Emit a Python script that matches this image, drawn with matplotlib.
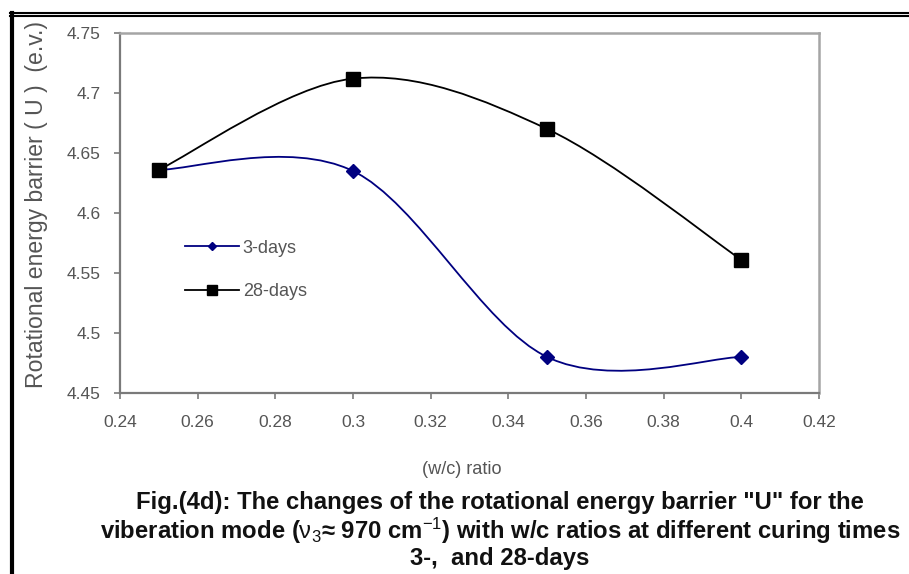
import matplotlib
matplotlib.use("Agg")
import matplotlib.pyplot as plt
from matplotlib.path import Path
from matplotlib.patches import PathPatch
from matplotlib.lines import Line2D
from matplotlib import font_manager
import numpy as np

# ---------------- data ----------------
wc_ratio = [0.25, 0.30, 0.35, 0.40]
days3 = [4.636, 4.635, 4.480, 4.480]
days28 = [4.636, 4.712, 4.670, 4.561]
series_names = ["3-days", "28-days"]
xticks = [0.24, 0.26, 0.28, 0.30, 0.32, 0.34, 0.36, 0.38, 0.40, 0.42]
xtick_labels = ["0.24", "0.26", "0.28", "0.3", "0.32", "0.34", "0.36", "0.38", "0.4", "0.42"]
yticks = [4.45, 4.50, 4.55, 4.60, 4.65, 4.70, 4.75]
ytick_labels = ["4.45", "4.5", "4.55", "4.6", "4.65", "4.7", "4.75"]
xlabel = "(w/c) ratio"
ylabel = "Rotational energy barrier ( U )  (e.v.)"
caption = [
    'Fig.(4d): The changes of the rotational energy barrier "U" for the',
    r'viberation mode ($\mathrm{\nu}_3$≈ 970 cm$^{-1}$) with w/c ratios at different curing times',
    '3-,  and 28-days',
]

# ---------------- fonts ----------------
avail = {f.name for f in font_manager.fontManager.ttflist}
base = "Liberation Sans" if "Liberation Sans" in avail else "DejaVu Sans"
narrow = "Liberation Sans Narrow" if "Liberation Sans Narrow" in avail else base
plt.rcParams["font.family"] = [base, "DejaVu Sans"]
plt.rcParams["mathtext.fontset"] = "custom"
plt.rcParams["mathtext.rm"] = base
plt.rcParams["mathtext.it"] = base + ":italic"
plt.rcParams["mathtext.bf"] = base + ":bold"

W, H = 909, 574
fig = plt.figure(figsize=(W / 100, H / 100), dpi=100)
fig.patch.set_facecolor("white")

# axes in pixel layout
L, R, T, B = 120, 819, 33, 393
ax = fig.add_axes([L / W, (H - B) / H, (R - L) / W, (B - T) / H])
ax.set_xlim(0.24, 0.42)
ax.set_ylim(4.45, 4.75)


def smooth_path(xs, ys):
    pts = [np.array([x, y], dtype=float) for x, y in zip(xs, ys)]
    n = len(pts)
    verts = [pts[0]]
    codes = [Path.MOVETO]
    for i in range(n - 1):
        p0 = pts[i - 1] if i > 0 else pts[i]
        p1 = pts[i]
        p2 = pts[i + 1]
        p3 = pts[i + 2] if i + 2 < n else pts[i + 1]
        c1 = p1 + (p2 - p0) / 6.0
        c2 = p2 - (p3 - p1) / 6.0
        verts += [c1, c2, p2]
        codes += [Path.CURVE4] * 3
    return Path(verts, codes)


c3 = "#000080"
c28 = "#000000"
ax.add_patch(PathPatch(smooth_path(wc_ratio, days3), fill=False, edgecolor=c3, lw=1.3, zorder=2))
ax.add_patch(PathPatch(smooth_path(wc_ratio, days28), fill=False, edgecolor=c28, lw=1.3, zorder=2))
ax.plot(wc_ratio, days3, linestyle="none", marker="D", ms=7, color=c3, zorder=3)
ax.plot(wc_ratio, days28, linestyle="none", marker="s", ms=10.5, color=c28, zorder=4)

# spines / ticks
for s in ["left", "bottom"]:
    ax.spines[s].set_color("#7a7a7a")
    ax.spines[s].set_linewidth(1.6)
for s in ["top", "right"]:
    ax.spines[s].set_color("#a5a5a5")
    ax.spines[s].set_linewidth(1.8)
ax.set_xticks(xticks)
ax.set_xticklabels(xtick_labels)
ax.set_yticks(yticks)
ax.set_yticklabels(ytick_labels)
ax.tick_params(axis="both", direction="out", length=4, width=1.2, color="#7a7a7a",
               labelcolor="#555555")
ax.tick_params(axis="x", pad=12)
ax.tick_params(axis="y", pad=10)
for lab in ax.get_xticklabels() + ax.get_yticklabels():
    lab.set_family([narrow, base, "DejaVu Sans"])
    lab.set_fontsize(14.5 if narrow != base else 12.5)

# legend
h3 = Line2D([], [], color=c3, lw=1.3, marker="D", ms=4.5)
h28 = Line2D([], [], color=c28, lw=1.3, marker="s", ms=6.5)
leg = ax.legend([h3, h28], series_names, loc="center left", bbox_to_anchor=(0.093, 0.342),
                frameon=False, borderaxespad=0, borderpad=0, handlelength=3.0,
                handletextpad=0.2, labelspacing=1.45, fontsize=13)
for t in leg.get_texts():
    t.set_color("#555555")
    t.set_family([narrow, base, "DejaVu Sans"])
    t.set_fontsize(14 if narrow != base else 13)

# axis labels as figure texts
ylab = fig.text(37 / W, 1 - 204 / H, ylabel, rotation=90, ha="center", va="center",
                color="#555555", fontsize=12.5)
xlab = fig.text(462 / W, 1 - 469 / H, xlabel, ha="center", va="center",
                color="#555555", fontsize=12, family=[narrow, base, "DejaVu Sans"])

cap_texts = []
for txt, yy in zip(caption, [503, 531, 558]):
    cap_texts.append(fig.text(500 / W, 1 - yy / H, txt, ha="center", va="center",
                              color="#111111", fontsize=15, fontweight="bold",
                              family=[narrow, base, "DejaVu Sans"]))

# fit sizes to measured widths
fig.canvas.draw()
r = fig.canvas.get_renderer()
def fit(t, target, horizontal=True):
    bb = t.get_window_extent(r)
    cur = bb.width if horizontal else bb.height
    t.set_fontsize(t.get_fontsize() * target / cur)

fit(cap_texts[0], 730)
for t in cap_texts[1:]:
    t.set_fontsize(cap_texts[0].get_fontsize())
fit(ylab, 370, horizontal=False)
fit(xlab, 80)

# figure border (double line top, thick left)
fig.add_artist(Line2D([10 / W, 1], [1 - 13 / H, 1 - 13 / H], color="black", lw=1.5,
                      transform=fig.transFigure))
fig.add_artist(Line2D([10 / W, 1], [1 - 16 / H, 1 - 16 / H], color="black", lw=1.5,
                      transform=fig.transFigure))
fig.add_artist(Line2D([12 / W, 12 / W], [0, 1 - 12.5 / H], color="black", lw=3,
                      transform=fig.transFigure))

fig.savefig("out.png", dpi=100)
